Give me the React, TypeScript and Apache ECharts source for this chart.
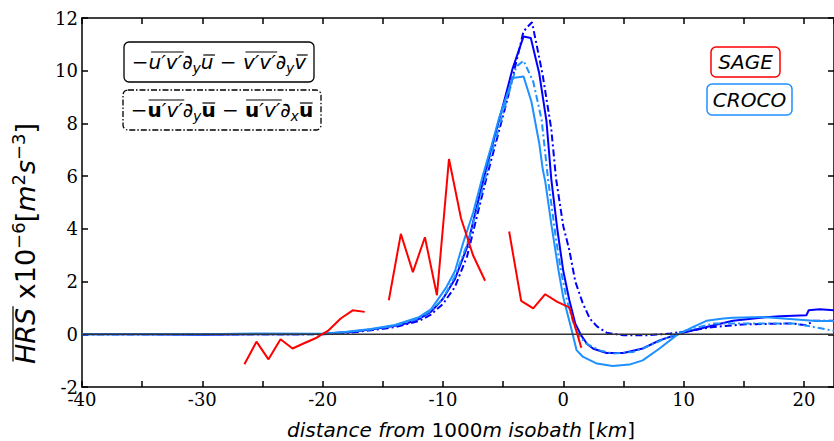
import React, { useEffect, useRef } from "react";
import * as echarts from "echarts";

// ---- data ----
const darkSolidX = [-40,-35,-30,-25,-22,-20,-18,-16,-14,-13,-12,-11,-10,-9,-8,-7,-6,-5,-4.2,-3.3,-2.7,-2,-1.4,-1,-0.5,0,0.5,1,1.5,2,2.5,3.6,5,6.6,8,9.7,11.9,14.1,16.4,18,20.2,20.4,21.3,22.5];
const darkSolidY = [0,0,-0.02,0,0,0.02,0.08,0.18,0.32,0.42,0.58,0.85,1.35,2.1,3.3,5.2,7.0,8.7,10.1,11.3,11.24,9.9,8.1,5.9,4.0,2.4,1.3,0.4,-0.05,-0.38,-0.55,-0.71,-0.71,-0.54,-0.23,0.03,0.28,0.51,0.63,0.68,0.72,0.91,0.95,0.91];

const darkDashX = [-40,-30,-25,-20,-18,-16,-14,-12,-11,-10,-9,-8,-7,-6.4,-5,-4.6,-3.3,-2.6,-2,-1.7,-1,-0.6,0,0.5,1,1.6,2.2,2.8,3.6,5,7,8.9,10.5,12.5,15.2,19.1,20.2,20.8,22.5];
const darkDashY = [0,0,0,0,0.05,0.15,0.27,0.5,0.75,1.15,1.8,2.95,4.8,5.9,8.3,9.0,11.5,11.84,10.5,9.8,7.8,5.9,4.1,3.2,2.0,1.2,0.6,0.3,0.06,-0.04,-0.04,0.03,0.13,0.28,0.38,0.41,0.34,0.51,0.51];

const lightSolidX = [-40,-30,-25,-20,-18,-16,-14,-12,-11,-10.3,-9.7,-9,-8.3,-7.5,-6.7,-6,-5.3,-4.2,-3.3,-2.65,-2,-1.7,-1.5,-1,-0.4,0,0.7,1.1,1.65,2.8,4.1,5.5,6.6,8,9.4,10.8,11.9,13.3,14.1,16.6,20.2,21,22.5];
const lightSolidY = [0,0,0.03,0.02,0.1,0.2,0.35,0.65,0.95,1.4,1.8,2.4,3.5,4.6,6.0,7.1,8.26,9.72,9.78,8.83,7.25,6.24,5.8,4.2,2.43,1.4,0.15,-0.6,-0.86,-1.11,-1.2,-1.15,-0.99,-0.54,-0.04,0.28,0.51,0.6,0.63,0.66,0.53,0.5,0.5];

const lightDashX = [-40,-30,-25,-20,-18,-16,-14,-12,-11,-10,-9,-8,-7,-6,-5,-3.9,-3.3,-2.5,-1.8,-1.26,-0.6,-0.2,0.3,0.8,1.3,1.9,3,4.1,5.8,6.9,8.3,9.7,12.5,15.2,19.1,20.8,22.5];
const lightDashY = [0,0,0,0,0.08,0.18,0.32,0.6,0.9,1.35,2.2,3.4,5.0,6.8,8.4,10.16,10.38,9.59,8.14,5.86,3.6,2.43,1.3,0.5,-0.05,-0.35,-0.61,-0.73,-0.67,-0.48,-0.2,0.09,0.41,0.41,0.41,0.28,0.13];

const sageX1 = [-26.5,-25.5,-24.5,-23.5,-22.5,-21.5,-20.5,-19.5,-18.5,-17.5,-16.5];
const sageY1 = [-1.14,-0.28,-0.95,-0.19,-0.54,-0.33,-0.13,0.15,0.6,0.91,0.85];
const sageX2 = [-14.5,-13.5,-12.5,-11.5,-10.5,-9.5,-8.5,-7.5,-6.5];
const sageY2 = [1.29,3.81,2.36,3.68,1.48,6.65,4.4,3.0,2.03];
const sageX3 = [-4.5,-3.5,-2.5,-1.5,-0.5,0.5,1.5];
const sageY3 = [3.9,1.27,0.98,1.52,1.23,1.02,-0.51];

const xMinV = -40;
const xMaxV = 22.5;
const yMinV = -2;
const yMaxV = 12;

const DARK = "#0000FF";
const LIGHT = "#1E90FF";
const RED = "#FF0000";
const DASHDOT = [7, 3, 2, 3];
const SANS = "DejaVu Sans";
const SERIF = "DejaVu Serif";

const pairs = (xs: number[], ys: number[]) => xs.map((x, i) => [x, ys[i]]);

type Piece = { t: string; f: "i" | "u" | "b"; s: number; dy?: number; ol?: number; span?: number };

// lay out a math-like string from pieces; returns graphic elements
function mathText(pieces: Piece[], x0: number, baseline: number, align: "left" | "center", z: number) {
  const ctx = document.createElement("canvas").getContext("2d")!;
  const fontOf = (p: Piece) =>
    `${p.f === "i" ? "italic " : ""}${p.f === "b" ? "bold " : ""}${p.s}px "${SANS}"`;
  const widths = pieces.map((p) => {
    ctx.font = fontOf(p);
    return ctx.measureText(p.t).width;
  });
  const total = widths.reduce((a, b) => a + b, 0);
  let x = align === "center" ? x0 - total / 2 : x0;
  const starts: number[] = [];
  const els: any[] = [];
  pieces.forEach((p, i) => {
    starts.push(x);
    const b = baseline + (p.dy || 0);
    els.push({
      type: "text",
      x,
      y: b - 0.346 * p.s,
      z,
      style: {
        text: p.t,
        fontFamily: SANS,
        fontSize: p.s,
        fontStyle: p.f === "i" ? "italic" : "normal",
        fontWeight: p.f === "b" ? "bold" : "normal",
        fill: "#000",
        align: "left",
        verticalAlign: "middle",
      },
    });
    x += widths[i];
  });
  pieces.forEach((p, i) => {
    if (!p.ol) return;
    const n = p.span || 1;
    const xs = starts[i] + (p.f === "i" ? 2.5 : 1);
    const last = i + n - 1;
    const xe = starts[last] + widths[last] + (pieces[last].f === "i" ? 1.5 : -0.5);
    els.push({
      type: "line",
      z,
      shape: { x1: xs, y1: baseline - p.ol, x2: xe, y2: baseline - p.ol },
      style: { stroke: "#000", lineWidth: 1.2 },
    });
  });
  return els;
}

const legend1: Piece[] = [
  { t: "−", f: "u", s: 20 },
  { t: "u′v′", f: "i", s: 20, ol: 17 },
  { t: "∂", f: "i", s: 20 },
  { t: "y", f: "i", s: 14, dy: 4 },
  { t: "u", f: "i", s: 20, ol: 14 },
  { t: " − ", f: "u", s: 20 },
  { t: "v′v′", f: "i", s: 20, ol: 17 },
  { t: "∂", f: "i", s: 20 },
  { t: "y", f: "i", s: 14, dy: 4 },
  { t: "v", f: "i", s: 20, ol: 14 },
];
const legend2: Piece[] = [
  { t: "−", f: "u", s: 20 },
  { t: "u", f: "b", s: 20, ol: 17, span: 2 },
  { t: "′v′", f: "i", s: 20 },
  { t: "∂", f: "i", s: 20 },
  { t: "y", f: "i", s: 14, dy: 4 },
  { t: "u", f: "b", s: 20, ol: 14 },
  { t: " − ", f: "u", s: 20 },
  { t: "u", f: "b", s: 20, ol: 17, span: 2 },
  { t: "′v′", f: "i", s: 20 },
  { t: "∂", f: "i", s: 20 },
  { t: "x", f: "i", s: 14, dy: 4 },
  { t: "u", f: "b", s: 20, ol: 14 },
];
const yTitle: Piece[] = [
  { t: "HRS", f: "i", s: 27, ol: 22, span: 1 },
  { t: " x10", f: "u", s: 27 },
  { t: "−6", f: "u", s: 18, dy: -10 },
  { t: "[", f: "u", s: 27 },
  { t: "m", f: "i", s: 27 },
  { t: "2", f: "u", s: 18, dy: -10 },
  { t: "s", f: "i", s: 27 },
  { t: "−3", f: "u", s: 18, dy: -10 },
  { t: "]", f: "u", s: 27 },
];

export default function App() {
  const ref = useRef<HTMLDivElement>(null);
  useEffect(() => {
    if (!ref.current) return;
    const chart = echarts.init(ref.current, undefined, { renderer: "svg" });
    const lineSeries = (name: string, data: number[][], color: string, dash: any, z: number) => ({
      name,
      type: "line",
      data,
      showSymbol: false,
      symbol: "none",
      silent: true,
      z,
      lineStyle: { color, width: 2, type: dash },
    });
    const frameAxis = {
      axisLine: { show: true, onZero: false, lineStyle: { color: "#000", width: 1.5 } },
      axisTick: { show: true, inside: true, length: 6, lineStyle: { color: "#000", width: 1.5 } },
      splitLine: { show: false },
    };
    chart.setOption({
      animation: false,
      grid: { left: 82, right: 0, top: 18, bottom: 54 },
      xAxis: [
        {
          type: "value",
          min: xMinV,
          max: xMaxV,
          interval: 5,
          position: "bottom",
          ...frameAxis,
          axisLabel: {
            show: true,
            fontFamily: SERIF,
            fontSize: 18,
            color: "#000",
            margin: 3,
            showMaxLabel: false,
            formatter: (v: number) => (v % 10 === 0 ? String(v) : ""),
          },
        },
        {
          type: "value",
          min: xMinV,
          max: xMaxV,
          interval: 5,
          position: "top",
          ...frameAxis,
          axisLabel: { show: false },
        },
      ],
      yAxis: [
        {
          type: "value",
          min: yMinV,
          max: yMaxV,
          interval: 2,
          position: "left",
          ...frameAxis,
          axisLabel: { show: true, fontFamily: SERIF, fontSize: 18, color: "#000", margin: 4 },
        },
        {
          type: "value",
          min: yMinV,
          max: yMaxV,
          interval: 2,
          position: "right",
          ...frameAxis,
          axisLabel: { show: false },
        },
      ],
      series: [
        lineSeries("dark dash", pairs(darkDashX, darkDashY), DARK, DASHDOT, 2),
        lineSeries("dark solid", pairs(darkSolidX, darkSolidY), DARK, "solid", 3),
        lineSeries("light dash", pairs(lightDashX, lightDashY), LIGHT, DASHDOT, 4),
        lineSeries("light solid", pairs(lightSolidX, lightSolidY), LIGHT, "solid", 5),
        {
          type: "line",
          data: [[xMinV, 0], [xMaxV, 0]],
          symbol: "none",
          silent: true,
          z: 6,
          lineStyle: { color: "#333", width: 1.5 },
        },
        lineSeries("SAGE a", pairs(sageX1, sageY1), RED, "solid", 7),
        lineSeries("SAGE b", pairs(sageX2, sageY2), RED, "solid", 7),
        lineSeries("SAGE c", pairs(sageX3, sageY3), RED, "solid", 7),
      ],
      graphic: [
        // y axis title (rotated)
        {
          type: "group",
          x: 35,
          y: 364,
          rotation: Math.PI / 2,
          children: mathText(yTitle, 0, 0, "left", 50),
        },
        // x axis title
        {
          type: "text",
          x: 461,
          y: 430,
          style: {
            text: "{i|distance from }{n|1000}{i|m isobath }{n|[}{i|km}{n|]}",
            align: "center",
            verticalAlign: "middle",
            rich: {
              i: { fontFamily: SANS, fontSize: 20, fontStyle: "italic", color: "#000" },
              n: { fontFamily: SANS, fontSize: 20, color: "#000" },
            },
          },
        },
        // legend box 1
        {
          type: "rect",
          shape: { x: 124, y: 42, width: 190, height: 40, r: 5 },
          style: { fill: "#fff", stroke: "#000", lineWidth: 1.3 },
          z: 100,
        },
        ...mathText(legend1, 219, 69, "center", 101),
        // legend box 2 (dash-dot)
        {
          type: "rect",
          shape: { x: 123, y: 90, width: 198, height: 40, r: 5 },
          style: { fill: "#fff", stroke: "#000", lineWidth: 1.3, lineDash: [6, 2, 1.5, 2] },
          z: 100,
        },
        ...mathText(legend2, 222, 117, "center", 101),
        // SAGE / CROCO labels
        {
          type: "rect",
          shape: { x: 711, y: 47, width: 69, height: 30, r: 5 },
          style: { fill: "#fff", stroke: RED, lineWidth: 1.5 },
          z: 100,
        },
        {
          type: "text",
          x: 745.5,
          y: 62,
          z: 101,
          style: { text: "SAGE", fontFamily: SANS, fontStyle: "italic", fontSize: 20, fill: "#000", align: "center", verticalAlign: "middle" },
        },
        {
          type: "rect",
          shape: { x: 707, y: 84, width: 85, height: 31, r: 5 },
          style: { fill: "#fff", stroke: LIGHT, lineWidth: 1.5 },
          z: 100,
        },
        {
          type: "text",
          x: 749.5,
          y: 99.5,
          z: 101,
          style: { text: "CROCO", fontFamily: SANS, fontStyle: "italic", fontSize: 20, fill: "#000", align: "center", verticalAlign: "middle" },
        },
      ],
    });
    return () => chart.dispose();
  }, []);
  return <div ref={ref} style={{ position: "absolute", left: 0, top: 0, width: 834, height: 441 }} />;
}
